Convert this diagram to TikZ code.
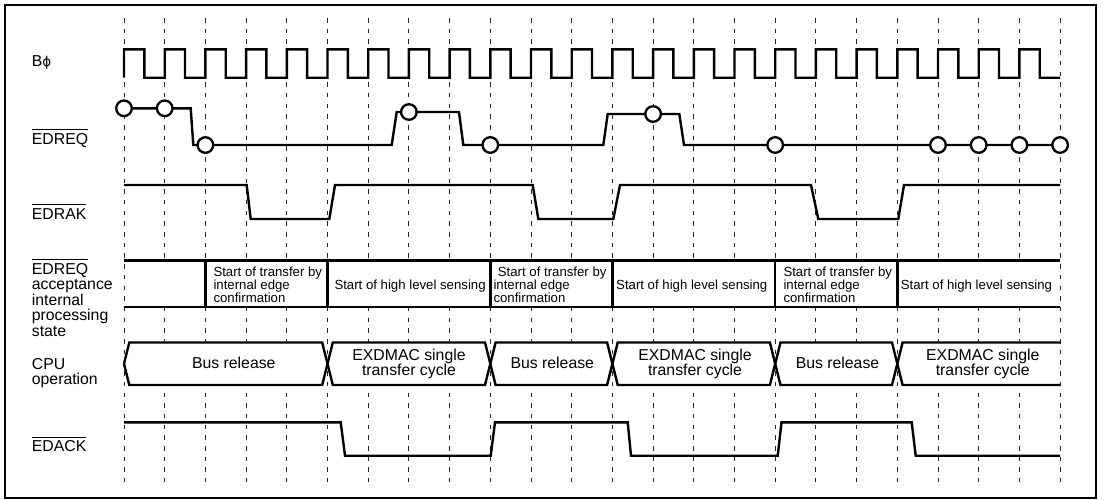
\documentclass[tikz,border=0pt]{standalone}
\usepackage{fontspec}
\setmainfont{Liberation Sans}
\newfontfamily\phifont{DejaVu Sans}
\newcommand\ovl[1]{\leavevmode\vbox{\hrule height 1pt \kern 2.8pt\hbox{#1}}}
\begin{document}
\begin{tikzpicture}[x=1pt,y=-1pt,
  wave/.style={line width=2.4pt, line join=miter, line cap=butt},
  gridline/.style={line width=1pt, dash pattern=on 4.5pt off 6.2pt, black!85},
  lbl/.style={font=\fontsize{15.8}{15.5}\selectfont, inner sep=0pt, anchor=base west},
  stxt/.style={font=\fontsize{13.2}{12.8}\selectfont, inner sep=0pt, anchor=base west},
  ctxt/.style={font=\fontsize{15.8}{12.6}\selectfont, inner sep=0pt, anchor=base},
  ctwo/.style={font=\fontsize{15.8}{12.6}\selectfont, inner sep=0pt, anchor=center, align=center},
  circ/.style={circle, draw, fill=white, line width=2.3pt, minimum size=15.6pt, inner sep=0pt}]
\useasboundingbox (0,0) rectangle (1104,499);
\fill[white] (0,0) rectangle (1104,499);
\draw[line width=2pt] (4.5,4.5) rectangle (1096,497.5);

% dashed grid
\foreach \x in {124,164.7,205.4,246.1,286.8,327.5,368.2,408.9,449.6,490.3,531,571.7,612.4,653.1,693.8,734.5,775.2,815.9,856.6,897.3,938,978.7,1019.4,1060.1}
  \draw[gridline] (\x,18) -- (\x,482);

% labels
\node[lbl] (lbp) at (31.7,66) {B{\phifont\fontsize{13.5}{13.5}\selectfont ϕ}};
\node[lbl] (lreq) at (31.7,144) {\ovl{EDREQ}};
\node[lbl] (lrak) at (31.7,219) {\ovl{EDRAK}};
\node[lbl] (ls1) at (31.7,274) {\ovl{EDREQ}};
\node[lbl] (ls2) at (31.7,289.5) {acceptance};
\node[lbl] (ls3) at (31.7,305) {internal};
\node[lbl] (ls4) at (31.7,320.5) {processing};
\node[lbl] (ls5) at (31.7,336) {state};
\node[lbl] (lc1) at (31.7,369) {CPU};
\node[lbl] (lc2) at (31.7,384.5) {operation};
\node[lbl] (lack) at (31.7,451.5) {\ovl{EDACK}};

% clock
\draw[wave] (124,77.7) \foreach \x in {124,164.7,205.4,246.1,286.8,327.5,368.2,408.9,449.6,490.3,531,571.7,612.4,653.1,693.8,734.5,775.2,815.9,856.6,897.3,938,978.7,1019.4}
  { -- (\x,49.3) -- ({\x+20.3},49.3) -- ({\x+20.3},77.7) -- ({\x+40.7},77.7) };

% EDREQ
\draw[wave] (124,108.3) -- (190.7,108.3) -- (193.3,145) -- (391.7,145) -- (396.7,112)
  -- (459,112) -- (463.3,145) -- (603.3,145) -- (607.7,114) -- (679.3,114) -- (684,145) -- (1060.1,145);
\node[circ] (q0) at (124,108.3) {};
\node[circ] (q1) at (164.7,108.3) {};
\node[circ] (q2) at (205.4,145) {};
\node[circ] (q3) at (408.9,112) {};
\node[circ] (q4) at (490.3,145) {};
\node[circ] (q5) at (653.1,114) {};
\node[circ] (q6) at (775.2,145) {};
\node[circ] (q7) at (938,145) {};
\node[circ] (q8) at (978.7,145) {};
\node[circ] (q9) at (1019.4,145) {};
\node[circ] (q10) at (1060.1,145) {};

% EDRAK
\draw[wave] (124,185) -- (246.7,185) -- (250.7,219) -- (329.3,219) -- (335,185) -- (532.7,185)
  -- (538.3,219) -- (613.3,219) -- (620,185) -- (811,185) -- (818.3,219) -- (898.3,219) -- (904,185) -- (1060.1,185);

% state row
\fill[white] (125.5,260.5) rectangle (1058.6,306.7);
\draw[wave] (124,260.5) -- (1060.1,260.5);
\draw[wave] (124,306.7) -- (1060.1,306.7);
\foreach \x in {205.4,327.5,490.3,612.4,775.2,897.3}
  \draw[wave] (\x,260.5) -- (\x,306.7);
\node[stxt] (sa1) at (213.3,276.3) {Start of transfer by};
\node[stxt] (sa2) at (213.3,289.5) {internal edge};
\node[stxt] (sa3) at (213.3,302.5) {confirmation};
\node[stxt] (sb) at (334.3,289) {Start of high level sensing};
\node[stxt] (sc1) at (497.7,276.3) {Start of transfer by};
\node[stxt] (sc2) at (493.3,289.5) {internal edge};
\node[stxt] (sc3) at (493.3,302.5) {confirmation};
\node[stxt] (sd) at (616,289) {Start of high level sensing};
\node[stxt] (se1) at (783.3,276.3) {Start of transfer by};
\node[stxt] (se2) at (783.3,289.5) {internal edge};
\node[stxt] (se3) at (783.3,302.5) {confirmation};
\node[stxt] (sf) at (900.7,289) {Start of high level sensing};

% CPU operation row
\fill[white] (124,363.8) -- (129.3,342.5) -- (322.2,342.5) -- (327.5,363.8) -- (322.2,385) -- (129.3,385) -- cycle;
\fill[white] (327.5,363.8) -- (332.8,342.5) -- (485,342.5) -- (490.3,363.8) -- (485,385) -- (332.8,385) -- cycle;
\fill[white] (490.3,363.8) -- (495.6,342.5) -- (607.1,342.5) -- (612.4,363.8) -- (607.1,385) -- (495.6,385) -- cycle;
\fill[white] (612.4,363.8) -- (617.7,342.5) -- (769.9,342.5) -- (775.2,363.8) -- (769.9,385) -- (617.7,385) -- cycle;
\fill[white] (775.2,363.8) -- (780.5,342.5) -- (892,342.5) -- (897.3,363.8) -- (892,385) -- (780.5,385) -- cycle;
\fill[white] (897.3,363.8) -- (902.6,342.5) -- (1058.6,342.5) -- (1058.6,385) -- (902.6,385) -- cycle;
\draw[wave] (124,363.8) -- (129.3,342.5) -- (322.2,342.5) -- (332.8,385) -- (485,385) -- (495.6,342.5)
  -- (607.1,342.5) -- (617.7,385) -- (769.9,385) -- (780.5,342.5) -- (892,342.5) -- (902.6,385) -- (1060.1,385);
\draw[wave] (124,363.8) -- (129.3,385) -- (322.2,385) -- (332.8,342.5) -- (485,342.5) -- (495.6,385)
  -- (607.1,385) -- (617.7,342.5) -- (769.9,342.5) -- (780.5,385) -- (892,385) -- (902.6,342.5) -- (1060.1,342.5);
\node[ctxt] (ca) at (233.8,368.3) {Bus release};
\node[ctwo] (cb) at (409,364) {EXDMAC single\\transfer cycle};
\node[ctxt] (cc) at (552.3,368.3) {Bus release};
\node[ctwo] (cd) at (695,364) {EXDMAC single\\transfer cycle};
\node[ctxt] (ce) at (837.5,368.3) {Bus release};
\node[ctwo] (cf) at (982.8,364) {EXDMAC single\\transfer cycle};

% EDACK
\draw[wave] (124,422.3) -- (340.7,422.3) -- (345,455.7) -- (490.7,455.7) -- (495,422.3) -- (627.7,422.3)
  -- (631,455.7) -- (777.7,455.7) -- (781.5,422.3) -- (911.7,422.3) -- (915.7,455.7) -- (1060.1,455.7);
\end{tikzpicture}
\end{document}
